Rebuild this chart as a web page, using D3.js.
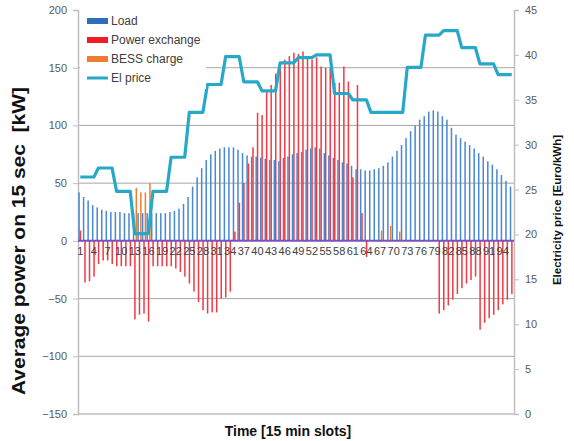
<!DOCTYPE html>
<html><head><meta charset="utf-8">
<script src="https://cdn.jsdelivr.net/npm/d3@7"></script>
<style>body{margin:0;background:#fff}text{font-family:"Liberation Sans",Arial,sans-serif}</style>
</head><body><svg id="c" width="574" height="441"></svg>
<script>
// ---- data ----
const categories = d3.range(1, 97); // 15-minute slots 1..96
const xTickLabels = [1,4,7,10,13,16,19,22,25,28,31,34,37,40,43,46,49,52,55,58,61,64,67,70,73,76,79,82,85,88,91,94];
const leftTicks = [-150,-100,-50,0,50,100,150,200];
const rightTicks = [0,5,10,15,20,25,30,35,40,45];
const gridValues = [150,100,50,-50,-100];

const load = [
  42,38,35,31,29,27,26,25,25,25,
  24,24,24,24,24,24,24,24,24,24,
  25,26,28,32,38,47,55,63,70,75,
  78,80,81,81,81,79,76,74,73,73,
  72,71,70,70,69,72,73,75,76,77,
  79,80,81,80,76,74,72,70,68,67,
  65,62,62,61,61,62,63,65,68,73,
  78,83,89,95,100,105,108,112,113,112,
  108,105,98,92,89,86,83,80,76,73,
  69,66,62,57,52,47];
const powerExchange = [
  9,-36,-35,-31,-20,-17,-17,-20,-22,-22,
  -22,-22,-68,-64,-63,-70,-22,-22,-22,-22,
  -22,-24,-27,-31,-37,-44,-53,-60,-63,-62,
  -62,-50,-49,-44,8,33,50,67,81,111,
  109,129,135,145,151,157,160,163,162,164,
  160,157,159,151,150,150,137,137,151,138,
  55,135,24,-14,0,0,0,0,0,0,
  0,0,0,0,0,0,0,0,0,-63,
  -60,-56,-51,-46,-41,-37,-34,-31,-77,-71,
  -67,-64,-60,-55,-51,-46];
const bessCharge = [
  0,0,0,0,0,0,0,0,0,0,
  0,0,46,42,42,50,0,0,0,0,
  0,0,0,0,0,0,0,0,0,0,
  0,0,0,0,0,0,0,0,0,0,
  0,0,0,0,0,0,0,0,0,0,
  0,0,0,0,0,0,0,0,0,0,
  0,0,0,0,0,0,9,0,13,0,
  8,0,0,0,0,0,0,0,0,0,
  0,0,0,0,0,0,0,0,0,0,
  0,0,0,0,0,0];
const elPrice = [
  26.4,26.4,26.4,26.4, 27.4,27.4,27.4,27.4, 24.8,24.8,24.8,24.8, 20.1,20.1,20.1,20.1,
  24.8,24.8,24.8,24.8, 28.6,28.6,28.6,28.6, 33.6,33.6,33.6,33.6, 36.7,36.7,36.7,36.7,
  39.8,39.8,39.8,39.8, 37.0,37.0,37.0,37.0, 36.0,36.0,36.0,36.0, 39.1,39.1,39.1,39.1,
  39.7,39.7,39.7,39.7, 40.0,40.0,40.0,40.0, 35.7,35.7,35.7,35.7, 35.0,35.0,35.0,35.0,
  33.6,33.6,33.6,33.6, 33.6,33.6,33.6,33.6, 38.6,38.6,38.6,38.6, 42.2,42.2,42.2,42.2,
  42.7,42.7,42.7,42.7, 40.8,40.8,40.8,40.8, 39.0,39.0,39.0,39.0, 37.8,37.8,37.8,37.8];

const seriesNames = ["Load","Power exchange","BESS charge","El price"];
const colors = {load:"#2e6fbd", pex:"#f01c24", bess:"#ee7d2e", price:"#27a8c9"};
const barColors = {load:"#4a88d0", pex:"#f03a44", bess:"#ee7d2e"};

// ---- layout ----
const L = 78, R = 514, T = 10, B = 414;
const svg = d3.select("#c");
const x = d3.scaleBand().domain(categories).range([L, R]).padding(0);
const yL = d3.scaleLinear().domain([-150, 200]).range([B, T]);
const yR = d3.scaleLinear().domain([0, 45]).range([B, T]);
const sub = d3.scaleBand().domain(["load","pex","bess"]).range([0.3, x.bandwidth() - 0.1]).padding(0);

// gridlines
svg.append("g").selectAll("line").data(gridValues).join("line")
  .attr("x1", L).attr("x2", R).attr("y1", d => yL(d)).attr("y2", d => yL(d))
  .attr("stroke", "#a6a6a6").attr("stroke-width", 1);
// bottom border
svg.append("line").attr("x1", L).attr("x2", R).attr("y1", yL(-150)).attr("y2", yL(-150))
  .attr("stroke", "#bfbfbf").attr("stroke-width", 1.5);

// left axis
const axL = svg.append("g").attr("transform", `translate(${L},0)`)
  .call(d3.axisLeft(yL).tickValues(leftTicks).tickSize(5).tickPadding(6));
axL.select(".domain").attr("stroke", "#bfbfbf").attr("stroke-width", 1.5);
axL.selectAll(".tick line").attr("stroke", "#bfbfbf");
axL.selectAll(".tick text").attr("fill", "#595959").style("font-size", "11px").style("font-family", '"Liberation Sans",Arial,sans-serif');

// right axis
const axR = svg.append("g").attr("transform", `translate(${R},0)`)
  .call(d3.axisRight(yR).tickValues(rightTicks).tickSize(5).tickPadding(6));
axR.select(".domain").attr("stroke", "#bfbfbf").attr("stroke-width", 1.5);
axR.selectAll(".tick line").attr("stroke", "#bfbfbf");
axR.selectAll(".tick text").attr("fill", "#595959").style("font-size", "11px").style("font-family", '"Liberation Sans",Arial,sans-serif');

// bars
const y0 = yL(0);
function bars(data, key, color) {
  svg.append("g").selectAll("rect").data(data.map((v, i) => ({c: categories[i], v})).filter(d => d.v !== 0))
    .join("rect")
    .attr("x", d => x(d.c) + sub(key))
    .attr("width", 1.5)
    .attr("y", d => Math.min(yL(d.v), y0))
    .attr("height", d => Math.abs(yL(d.v) - y0))
    .attr("fill", color);
}
bars(load, "load", barColors.load);
bars(powerExchange, "pex", barColors.pex);
bars(bessCharge, "bess", barColors.bess);

// category axis line at zero
svg.append("line").attr("x1", L).attr("x2", R).attr("y1", y0).attr("y2", y0)
  .attr("stroke", "#7a52c0").attr("stroke-width", 2);

// category labels
svg.append("g").selectAll("text").data(xTickLabels).join("text")
  .attr("x", d => x(d) + x.bandwidth() / 2).attr("y", y0 + 14)
  .attr("text-anchor", "middle").attr("fill", "#404040").style("font-size", "11px")
  .text(d => d);

// price line
const line = d3.line().x((d, i) => x(categories[i]) + x.bandwidth() / 2).y(d => yR(d));
svg.append("path").datum(elPrice).attr("d", line).attr("fill", "none")
  .attr("stroke", colors.price).attr("stroke-width", 3.2).attr("stroke-linejoin", "round");

// legend
const lg = svg.append("g");
lg.append("rect").attr("x", L + 2).attr("y", T + 1).attr("width", 126).attr("height", 78).attr("fill", "#fff");
const legendItems = [
  {name: seriesNames[0], color: colors.load, type: "rect"},
  {name: seriesNames[1], color: colors.pex, type: "rect"},
  {name: seriesNames[2], color: colors.bess, type: "rect"},
  {name: seriesNames[3], color: colors.price, type: "line"}];
legendItems.forEach((d, i) => {
  const cy = 21 + i * 19;
  if (d.type === "rect") lg.append("rect").attr("x", 87).attr("y", cy - 3).attr("width", 21).attr("height", 6).attr("fill", d.color);
  else lg.append("line").attr("x1", 87).attr("x2", 108).attr("y1", cy).attr("y2", cy).attr("stroke", d.color).attr("stroke-width", 3);
  lg.append("text").attr("x", 111).attr("y", cy + 4).attr("fill", "#404040").style("font-size", "12px").text(d.name);
});

// titles
svg.append("text").attr("transform", "translate(25,241) rotate(-90)").attr("text-anchor", "middle")
  .style("font-size", "19px").style("font-weight", "bold").style("white-space", "pre").attr("fill", "#111")
  .attr("textLength", 308).attr("lengthAdjust", "spacingAndGlyphs")
  .text("Average power on 15 sec  [kW]");
svg.append("text").attr("transform", "translate(561,210) rotate(-90)").attr("text-anchor", "middle")
  .style("font-size", "11.5px").style("font-weight", "bold").attr("fill", "#111")
  .text("Electricity price [Euro/kWh]");
svg.append("text").attr("x", 288).attr("y", 436).attr("text-anchor", "middle")
  .style("font-size", "14px").style("font-weight", "bold").attr("fill", "#111")
  .text("Time [15 min slots]");
</script></body></html>
